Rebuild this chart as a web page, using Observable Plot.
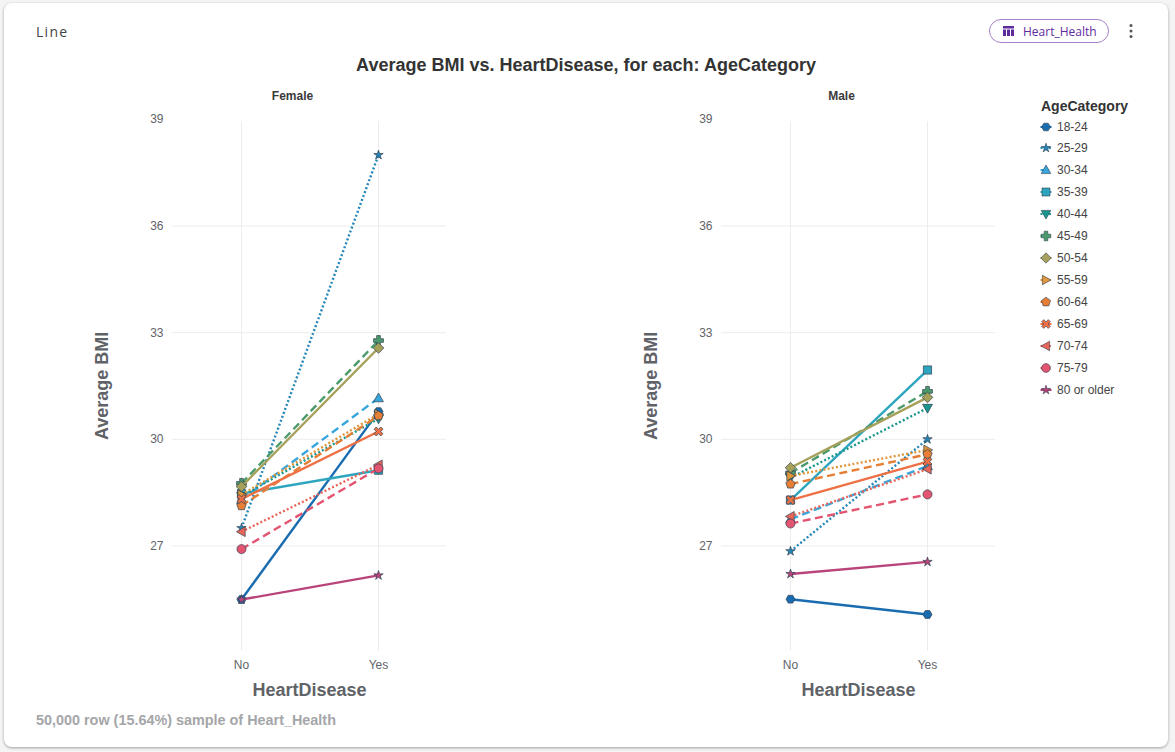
<!DOCTYPE html>
<html>
<head>
<meta charset="utf-8">
<script src="https://cdn.jsdelivr.net/npm/d3@7"></script>
<script src="https://cdn.jsdelivr.net/npm/@observablehq/plot@0.6"></script>
<style>
html,body{margin:0;padding:0;width:1175px;height:752px;overflow:hidden;background:#f4f4f4;font-family:"Liberation Sans",Arial,sans-serif}
#card{position:absolute;left:4px;top:3px;width:1164px;height:744px;background:#fff;border-radius:8px;box-shadow:0 1px 3px rgba(0,0,0,.35)}
#chart{position:absolute;left:0;top:0}
.t{position:absolute;white-space:nowrap}
#kind{left:36px;top:22px;font:14px "Open Sans",sans-serif;letter-spacing:1.3px;color:#444}
#title{left:0;width:1172px;text-align:center;top:55px;font:bold 18px "Liberation Sans",sans-serif;color:#333}
#pill{position:absolute;left:989px;top:19px;width:118px;height:22px;border:1px solid #a77fcb;border-radius:12px;background:#fff}
#pillT{left:1023px;top:23px;font:12px "Open Sans",sans-serif;color:#5f2a9e}
#foot{left:36px;top:712px;font:bold 14.4px "Liberation Sans",sans-serif;color:#a4a6a9}
#legT{left:1041px;top:98px;font:bold 14px "Liberation Sans",sans-serif;color:#333}
.li{position:absolute;left:1040px;height:14px;font:12px/14px "Liberation Sans",sans-serif;color:#444;white-space:nowrap}
.li svg{position:absolute;left:0;top:0;overflow:visible}
.li span{position:absolute;left:17px;top:0}
</style>
</head>
<body>
<div id="card"></div>
<div id="chart"></div>
<div class="t" id="kind">Line</div>
<div class="t" id="title">Average BMI vs. HeartDisease, for each: AgeCategory</div>
<div id="pill"></div>
<svg style="position:absolute;left:1002px;top:25px" width="14" height="12" viewBox="0 0 14 12"><path fill="#5f2a9e" d="M1 1h11v2.4H1zM1 4.6h3V11H1zM5 4.6h3V11H5zM9 4.6h3V11H9z"/></svg>
<div class="t" id="pillT">Heart_Health</div>
<svg style="position:absolute;left:1128px;top:23px" width="6" height="16"><circle cx="3" cy="2.5" r="1.5" fill="#555"/><circle cx="3" cy="8" r="1.5" fill="#555"/><circle cx="3" cy="13.5" r="1.5" fill="#555"/></svg>
<div class="t" id="foot">50,000 row (15.64%) sample of Heart_Health</div>
<div class="t" id="legT">AgeCategory</div>
<div id="legend"></div>
<script>
const ages = ["18-24","25-29","30-34","35-39","40-44","45-49","50-54","55-59","60-64","65-69","70-74","75-79","80 or older"];
const femaleNo  = [25.49,27.50,28.30,28.47,28.40,28.76,28.67,28.44,28.13,28.32,27.40,26.91,25.49];
const femaleYes = [30.78,38.00,31.16,29.13,30.58,32.78,32.57,30.71,30.66,30.22,29.28,29.18,26.17];
const maleNo    = [25.50,26.85,27.75,28.29,28.92,29.05,29.20,28.97,28.74,28.29,27.83,27.63,26.21];
const maleYes   = [25.07,30.00,29.25,31.95,30.88,31.35,31.18,29.70,29.58,29.37,29.16,28.45,26.55];
const sexes = ["Female","Male"];
const disease = ["No","Yes"];
const yTicks = [27,30,33,36,39];
const gridTicks = [27,30,33,36];
const colors = ["#1a6cb0","#2487b9","#38a6dc","#2ea5bf","#18968f","#4b9a6c","#a5a05a","#e0963a","#e67f35","#ee7045","#e8655a","#e35470","#b8447a"];
const lineStyles = ["solid","dotted","dashed","solid","dotted","dashed","solid","dotted","dashed","solid","dotted","dashed","solid"];
const shapes = ["hexagon","star","triUp","square","triDown","plus","diamond","triRight","pentagon","x","triLeft","circle","star"];

const dashOf = {solid:null, dotted:"2,2.2", dashed:"8,4.5"};
const poly = pts => ({draw(c,size){const R=Math.sqrt(size/Math.PI);pts.forEach(([a,b],i)=>i?c.lineTo(a*R,b*R):c.moveTo(a*R,b*R));c.closePath();}});
const ngon = (n,rot,k=1.15) => poly(d3.range(n).map(i=>{const a=rot+i*2*Math.PI/n;return [k*Math.cos(a),k*Math.sin(a)];}));
const star = poly(d3.range(10).map(i=>{const a=-Math.PI/2+i*Math.PI/5,r=i%2?0.45:1.2;return [r*Math.cos(a),r*Math.sin(a)];}));
const symbols = {
  hexagon: ngon(6,0,1.1), circle: ngon(24,0,1.1), star,
  triUp: poly([[0,-1.25],[1.2,.9],[-1.2,.9]]),
  triDown: poly([[0,1.25],[1.2,-.9],[-1.2,-.9]]),
  triRight: poly([[1.25,0],[-.9,1.2],[-.9,-1.2]]),
  triLeft: poly([[-1.25,0],[.9,1.2],[.9,-1.2]]),
  square: poly([[-1,-1],[1,-1],[1,1],[-1,1]]),
  diamond: poly([[0,-1.3],[1.3,0],[0,1.3],[-1.3,0]]),
  pentagon: ngon(5,-Math.PI/2,1.2),
  plus: poly([[-.45,-1.2],[.45,-1.2],[.45,-.45],[1.2,-.45],[1.2,.45],[.45,.45],[.45,1.2],[-.45,1.2],[-.45,.45],[-1.2,.45],[-1.2,-.45],[-.45,-.45]]),
  x: poly([[-.55,-1.1],[0,-.5],[.55,-1.1],[1.1,-.55],[.5,0],[1.1,.55],[.55,1.1],[0,.5],[-.55,1.1],[-1.1,.55],[-.5,0],[-1.1,-.55]])
};
const symbolRange = shapes.map(s=>symbols[s]);

const rows = ages.flatMap((age,i)=>[
  {sex:"Female",disease:"No", bmi:femaleNo[i], age},
  {sex:"Female",disease:"Yes",bmi:femaleYes[i],age},
  {sex:"Male",disease:"No", bmi:maleNo[i], age},
  {sex:"Male",disease:"Yes",bmi:maleYes[i],age}
]);

const seriesMarks = ages.flatMap((age,i)=>{
  const d = rows.filter(r=>r.age===age);
  return [
    Plot.line(d,{x:"disease",y:"bmi",fx:"sex",z:"sex",stroke:"age",strokeWidth:2.4,strokeDasharray:dashOf[lineStyles[i]],strokeLinecap:"butt"}),
    Plot.dot(d,{x:"disease",y:"bmi",fx:"sex",fill:"age",symbol:"age",r:4.1,stroke:"#2f4050",strokeWidth:.7})
  ];
});

const plot = Plot.plot({
  width:1175,height:752,
  marginLeft:172,marginRight:179,marginTop:119,marginBottom:100,
  style:{background:"transparent",fontFamily:"'Liberation Sans',sans-serif"},
  fx:{domain:sexes,paddingInner:.5018,paddingOuter:0,align:0,label:null},
  x:{type:"point",domain:disease,padding:.4928,label:null},
  y:{domain:[24,39],label:null},
  color:{domain:ages,range:colors},
  symbol:{domain:ages,range:symbolRange},
  marks:[
    Plot.gridX(disease,{x:d=>d,y1:24.04,y2:38.94,stroke:"#ececec",strokeOpacity:1,strokeWidth:1}),
    Plot.gridY(gridTicks,{y:d=>d,stroke:"#ececec",strokeOpacity:1,strokeWidth:1}),
    Plot.axisFx({anchor:"top",label:null,tickSize:0,tickPadding:20,dx:-17,fontSize:12,fontWeight:"bold",fill:"#3a3a3a"}),
    Plot.axisY({ticks:yTicks,tickSize:0,tickPadding:9,fontSize:12,fill:"#5f6368",label:null,facetAnchor:null,anchor:"left"}),
    Plot.axisX({tickSize:0,tickPadding:8,fontSize:12,fill:"#5f6368",label:null,facetAnchor:null}),
    Plot.text(sexes,{fx:d=>d,text:()=>"Average BMI",frameAnchor:"left",dx:-70,dy:54,rotate:-90,fontSize:18,fontWeight:"bold",fill:"#5f6368"}),
    Plot.text(sexes,{fx:d=>d,text:()=>"HeartDisease",frameAnchor:"bottom",dy:43,fontSize:18,fontWeight:"bold",fill:"#5f6368"}),
    ...seriesMarks
  ]
});
document.getElementById("chart").append(plot);

const legend = document.getElementById("legend");
ages.forEach((age,i)=>{
  const el = document.createElement("div");
  el.className="li";
  el.style.top = (119.5+i*21.95)+"px";
  const p = d3.path(); symbolRange[i].draw(p,Math.PI*4*4);
  const dash = dashOf[lineStyles[i]];
  el.innerHTML = `<svg width="12" height="14"><line x1="0.5" x2="11.5" y1="7" y2="7" stroke="${colors[i]}" stroke-width="2"${dash?` stroke-dasharray="${dash}"`:""}/><path transform="translate(6,7)" d="${p}" fill="${colors[i]}" stroke="#2f4050" stroke-width=".6"/></svg><span>${age}</span>`;
  legend.append(el);
});
</script>
</body>
</html>
